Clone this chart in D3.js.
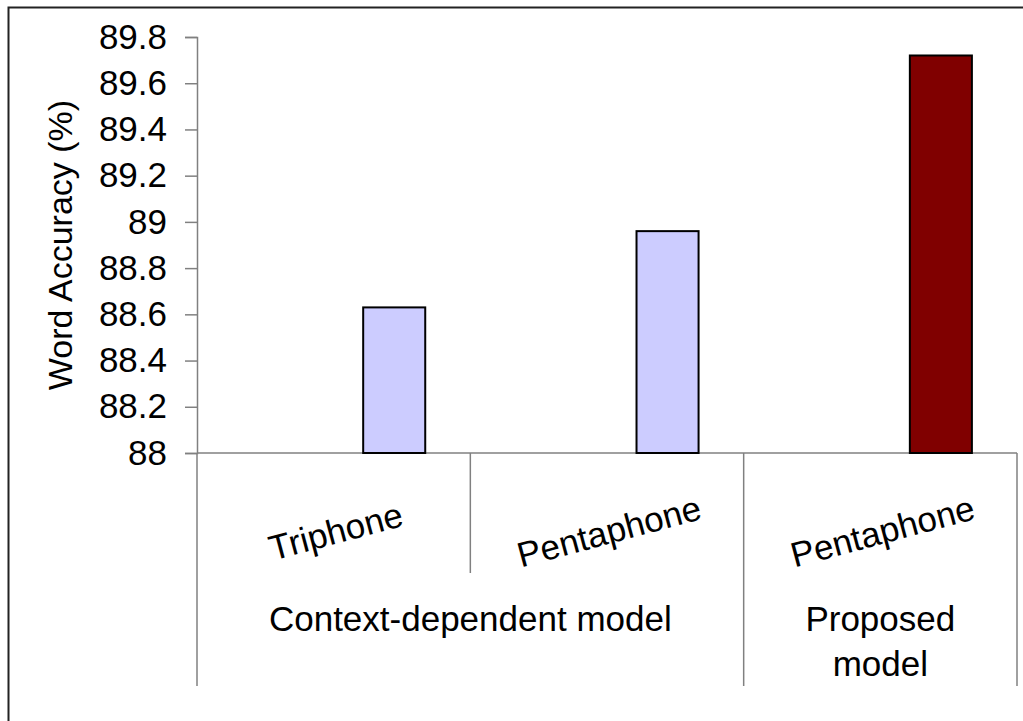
<!DOCTYPE html>
<html>
<head>
<meta charset="utf-8">
<script src="https://cdn.jsdelivr.net/npm/d3@7"></script>
<style>
  body { margin: 0; background: #fff; }
  svg { display: block; font-family: "Liberation Sans", Arial, sans-serif; }
</style>
</head>
<body>
<svg id="chart" width="1023" height="721"></svg>
<script>
// data
const groups = ["Context-dependent model", "Proposed model"]
const categories = ["Triphone", "Pentaphone", "Pentaphone "]
const categoryGroup = [0, 0, 1]
const accuracy = [88.63, 88.96, 89.72]
const barColors = ["#ccccff", "#ccccff", "#800000"]
const yTicks = [88, 88.2, 88.4, 88.6, 88.8, 89, 89.2, 89.4, 89.6, 89.8]

const svg = d3.select("#chart")
const width = 1023, height = 721
const margin = ({ top: 37, right: 6, bottom: 268, left: 197 })

// frame round the whole chart, cut off at right and bottom like the original
svg.append("rect")
    .attr("x", 8.5).attr("y", 7.5)
    .attr("width", 1040).attr("height", 740)
    .attr("fill", "none")
    .attr("stroke", "#222")
    .attr("stroke-width", 2)

const x = d3.scaleBand()
    .domain(categories)
    .range([margin.left, width - margin.right])

const y = d3.scaleLinear()
    .domain([88, 89.8])
    .range([height - margin.bottom, margin.top])

const y0 = y(88)

// y axis
const yAxis = g => g
    .attr("transform", `translate(${margin.left},0)`)
    .call(d3.axisLeft(y).tickValues(yTicks).tickFormat(d3.format("~g")).tickSize(12).tickPadding(18))
    .call(g => g.select(".domain").attr("stroke", "#808080").attr("stroke-width", 1.5))
    .call(g => g.selectAll(".tick line").attr("stroke", "#808080").attr("stroke-width", 1.5))
    .call(g => g.selectAll(".tick text")
        .attr("font-size", 35)
        .attr("font-family", "Liberation Sans, Arial, sans-serif")
        .attr("fill", "#000"))

svg.append("g").call(yAxis)

svg.append("text")
    .attr("transform", `translate(60,${(y(88) + y(89.8)) / 2}) rotate(-90)`)
    .attr("text-anchor", "middle")
    .attr("dominant-baseline", "central")
    .attr("font-size", 34)
    .text("Word Accuracy (%)")

// category axis line
svg.append("line")
    .attr("x1", margin.left).attr("x2", width - margin.right)
    .attr("y1", y0).attr("y2", y0)
    .attr("stroke", "#808080").attr("stroke-width", 1.5)

// separators: short ones inside a group, long ones between groups
const edges = d3.range(categories.length + 1).map(i =>
    i < categories.length ? x(categories[i]) : x(categories[i - 1]) + x.bandwidth())
edges.forEach((ex, i) => {
    const inner = i > 0 && i < categories.length && categoryGroup[i] === categoryGroup[i - 1]
    svg.append("line")
        .attr("x1", ex).attr("x2", ex)
        .attr("y1", y0).attr("y2", inner ? 573 : 686)
        .attr("stroke", "#808080").attr("stroke-width", 1.5)
})

// bars sit right of band centre (second slot of a clustered layout)
const bw = x.bandwidth()
svg.append("g")
    .selectAll("rect")
    .data(categories)
    .join("rect")
        .attr("x", d => x(d) + bw * 0.608)
        .attr("width", bw * 0.227)
        .attr("y", (d, i) => y(accuracy[i]))
        .attr("height", (d, i) => y0 - y(accuracy[i]))
        .attr("fill", (d, i) => barColors[i])
        .attr("stroke", "#000")
        .attr("stroke-width", 2)

// slanted category labels
svg.append("g")
    .selectAll("text")
    .data(categories)
    .join("text")
        .attr("transform", d => `translate(${x(d) + bw / 2 + 2},531) rotate(-15)`)
        .attr("text-anchor", "middle")
        .attr("dominant-baseline", "central")
        .attr("font-size", 35)
        .text(d => d.trim())

// group labels
groups.forEach((gName, gi) => {
    const idx = categoryGroup.map((c, i) => c === gi ? i : -1).filter(i => i >= 0)
    const x0 = x(categories[idx[0]])
    const x1 = x(categories[idx[idx.length - 1]]) + bw
    const cx = (x0 + x1) / 2
    const words = gName.split(" ")
    const lines = (x1 - x0) < 400 && words.length > 1 ? [words.slice(0, -1).join(" "), words[words.length - 1]] : [gName]
    svg.append("text")
        .attr("text-anchor", "middle")
        .attr("font-size", 35)
        .selectAll("tspan")
        .data(lines)
        .join("tspan")
            .attr("x", cx)
            .attr("y", (d, i) => 631 + i * 45)
            .text(d => d)
})
</script>
</body>
</html>
